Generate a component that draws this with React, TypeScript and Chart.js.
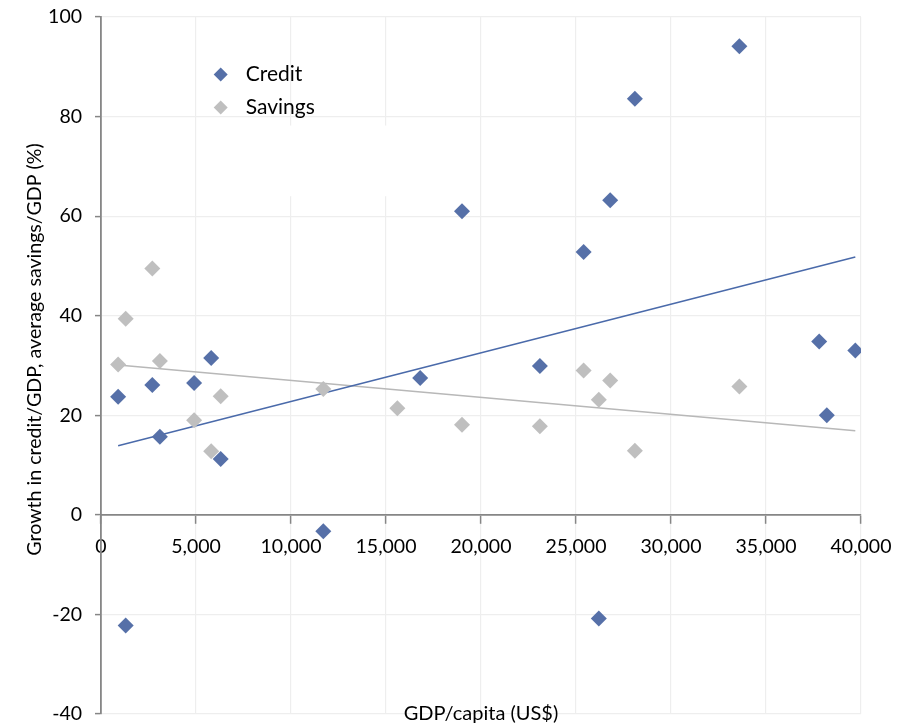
import React, { useEffect, useRef } from "react";
import { Chart, registerables } from "chart.js";

Chart.register(...registerables);

// ---- Data ----
const creditX = [900, 1300, 2700, 3100, 4900, 5800, 6300, 11700, 16800, 19000, 23100, 25400, 26200, 26800, 28100, 33600, 37800, 38200, 39700];
const creditY = [23.7, -22.2, 26.1, 15.7, 26.5, 31.5, 11.2, -3.3, 27.5, 61.0, 29.9, 52.8, -20.8, 63.2, 83.6, 94.1, 34.8, 20.0, 33.0];

const savingsX = [900, 1300, 2700, 3100, 4900, 5800, 6300, 11700, 15600, 19000, 23100, 25400, 26200, 26800, 28100, 33600];
const savingsY = [30.2, 39.4, 49.5, 30.9, 19.0, 12.8, 23.8, 25.3, 21.4, 18.1, 17.8, 29.0, 23.1, 27.0, 12.9, 25.8];

// Trend line endpoints
const creditTrendX = [900, 39700];
const creditTrendY = [13.9, 51.8];
const savingsTrendX = [900, 39700];
const savingsTrendY = [30.1, 16.9];

const seriesLabels = ["Credit", "Savings"];
const xTitle = "GDP/capita (US$)";
const yTitle = "Growth in credit/GDP, average savings/GDP (%)";
const xTicks = { min: 0, max: 40000, step: 5000 };
const yTicks = { min: -40, max: 100, step: 20 };

const CREDIT = "#5670A8";
const SAVINGS = "#BFBFBF";
const AXIS = "#868686";
const GRID = "#EEEEEE";
const FONT = "Lato, 'Open Sans', sans-serif";

const toPts = (xs: number[], ys: number[]) => xs.map((x, i) => ({ x, y: ys[i] }));

const overlayPlugin = {
  id: "overlay",
  beforeDatasetsDraw(chart: any) {
    // blank region seen in the reference plot area
    const { ctx } = chart;
    const xs = chart.scales.x;
    const ys = chart.scales.y;
    ctx.save();
    ctx.fillStyle = "#ffffff";
    const x0 = xs.getPixelForValue(7000);
    const x1 = xs.getPixelForValue(18000);
    const y0 = ys.getPixelForValue(78.2);
    const y1 = ys.getPixelForValue(64);
    ctx.fillRect(x0, y0, x1 - x0, y1 - y0);
    ctx.restore();
  },
  afterDraw(chart: any) {
    const { ctx, chartArea } = chart;
    ctx.save();
    ctx.fillStyle = "#000";
    // x title
    ctx.font = `20px ${FONT}`;
    ctx.textAlign = "center";
    ctx.textBaseline = "middle";
    ctx.fillText(xTitle, (chartArea.left + chartArea.right) / 2, chartArea.bottom);
    // y title
    ctx.font = `19.6px ${FONT}`;
    ctx.save();
    ctx.translate(35, (chartArea.top + chartArea.bottom) / 2 - 16);
    ctx.rotate(-Math.PI / 2);
    ctx.fillText(yTitle, 0, 0);
    ctx.restore();
    // legend
    const lx = chart.scales.x.getPixelForValue(6300);
    const items = chart.data.datasets.filter((d: any) => d.inLegend);
    items.forEach((d: any, i: number) => {
      const cy = 74.5 + i * 33;
      const r = 7;
      ctx.fillStyle = d.backgroundColor;
      ctx.beginPath();
      ctx.moveTo(lx, cy - r);
      ctx.lineTo(lx + r, cy);
      ctx.lineTo(lx, cy + r);
      ctx.lineTo(lx - r, cy);
      ctx.closePath();
      ctx.fill();
      ctx.fillStyle = "#000";
      ctx.font = `21px ${FONT}`;
      ctx.textAlign = "left";
      ctx.textBaseline = "middle";
      ctx.fillText(d.label, lx + 25, cy);
    });
    ctx.restore();
  },
};

export default function App() {
  const ref = useRef<HTMLCanvasElement | null>(null);
  useEffect(() => {
    if (!ref.current) return;
    const chart = new Chart(ref.current, {
      type: "scatter",
      data: {
        datasets: [
          {
            label: seriesLabels[0],
            data: toPts(creditX, creditY),
            backgroundColor: CREDIT,
            borderColor: CREDIT,
            borderWidth: 0,
            pointStyle: "rectRot",
            pointRadius: 8,
            order: 0,
            inLegend: true,
          } as any,
          {
            label: seriesLabels[1],
            data: toPts(savingsX, savingsY),
            backgroundColor: SAVINGS,
            borderColor: SAVINGS,
            borderWidth: 0,
            pointStyle: "rectRot",
            pointRadius: 8,
            order: 1,
            inLegend: true,
          } as any,
          {
            label: "Credit trend",
            data: toPts(creditTrendX, creditTrendY),
            type: "line",
            borderColor: "#4A6AAA",
            borderWidth: 1.5,
            pointRadius: 0,
            fill: false,
            order: 5,
          } as any,
          {
            label: "Savings trend",
            data: toPts(savingsTrendX, savingsTrendY),
            type: "line",
            borderColor: "#B8B8B8",
            borderWidth: 1.5,
            pointRadius: 0,
            fill: false,
            order: 6,
          } as any,
        ],
      },
      options: {
        animation: false,
        responsive: true,
        maintainAspectRatio: false,
        layout: { padding: { top: 17, right: 54, bottom: 13, left: 0 } },
        plugins: { legend: { display: false }, tooltip: { enabled: false } },
        scales: {
          x: {
            type: "linear",
            position: { y: 0 } as any,
            min: xTicks.min,
            max: xTicks.max,
            afterFit: (s: any) => {
              s.paddingTop = 0;
              s.paddingBottom = 0;
            },
            ticks: {
              stepSize: xTicks.step,
              color: "#000",
              font: { family: FONT, size: 19.5 },
              padding: 12,
              maxRotation: 0,
              callback: (v: any) => Number(v).toLocaleString("en-US"),
            },
            grid: { color: GRID, tickColor: AXIS, tickLength: 8, lineWidth: 1.2, tickWidth: 1.5 },
            border: { color: AXIS, width: 1.8 },
          },
          y: {
            type: "linear",
            min: yTicks.min,
            max: yTicks.max,
            afterFit: (s: any) => {
              s.width = 101;
              s.paddingTop = 0;
              s.paddingBottom = 0;
            },
            ticks: {
              stepSize: yTicks.step,
              color: "#000",
              font: { family: FONT, size: 19.5 },
              padding: 13,
            },
            grid: { color: GRID, tickColor: AXIS, tickLength: 6, lineWidth: 1.2, tickWidth: 1.5 },
            border: { color: AXIS, width: 1.8 },
          },
        },
      },
      plugins: [overlayPlugin],
    });
    return () => chart.destroy();
  }, []);
  return (
    <div style={{ position: "fixed", left: 0, top: 0, width: 915, height: 727, background: "#fff" }}>
      <canvas ref={ref} />
    </div>
  );
}
